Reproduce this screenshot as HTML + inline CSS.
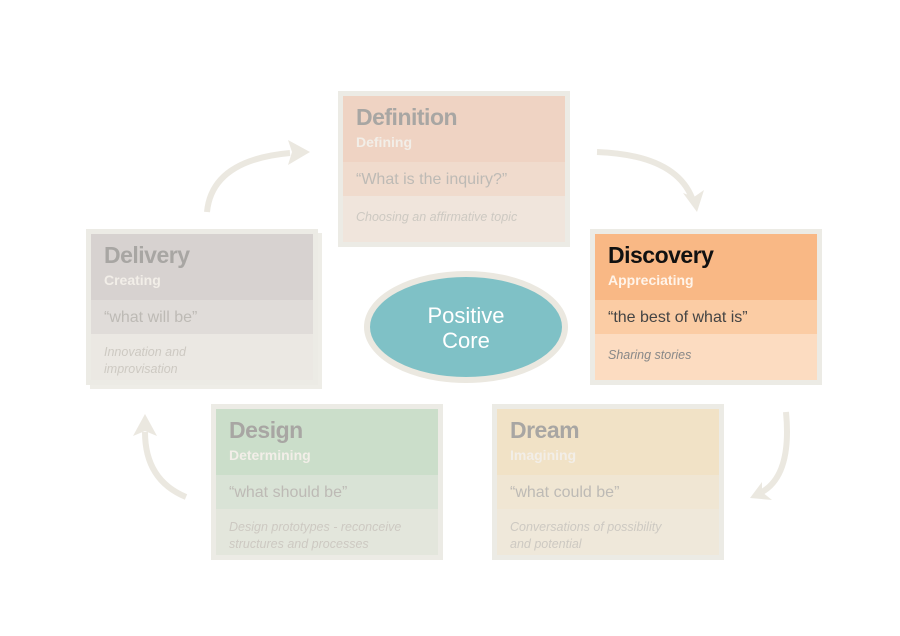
<!DOCTYPE html>
<html><head><meta charset="utf-8"><style>
body{margin:0;width:900px;height:636px;background:#fff;position:relative;overflow:hidden;font-family:"Liberation Sans",sans-serif}
.box{position:absolute;width:222px;height:146px;border:5px solid #ecebe5;}
.h{position:absolute;left:0;top:0;width:222px;height:66px}
.q{position:absolute;left:0;top:66px;width:222px;height:34px}
.b{position:absolute;left:0;top:100px;width:222px;height:46px}
.t{position:absolute;left:13px;top:8px;font-size:23px;font-weight:bold;letter-spacing:-0.5px}
.s{position:absolute;left:13px;top:38px;font-size:14px;font-weight:bold}
.qq{position:absolute;left:13px;top:75px;font-size:16px}
.d{position:absolute;left:13px;top:113px;font-size:12.5px;font-style:italic;line-height:17px}
.dim .t{color:#a8a6a3}.dim .s{color:#f2eee8}.dim .qq{color:#bdbab5}.dim .d{color:#cdc9c2}
</style></head><body>
<svg width="900" height="636" style="position:absolute;left:0;top:0">
<g fill="none" stroke="#ebe8e0" stroke-width="6">
<path d="M207 212 Q212 160 290 153"/>
<path d="M597 152 Q675 155 692 198"/>
<path d="M786 412 Q792 475 762 492"/>
<path d="M186 497 Q145 480 145 432"/>
</g>
<g fill="#ebe8e0">
<polygon points="310,152 288,140 292,152 288,165"/>
<polygon points="697,212 683,193 694,197 704,190"/>
<polygon points="750,498 762,482 762,492 772,500"/>
<polygon points="145,414 133,436 145,431 157,436"/>
</g>
<ellipse cx="466" cy="327" rx="99" ry="53" fill="#7fc1c6" stroke="#ebe8e0" stroke-width="6"/>
<text x="466" y="323" text-anchor="middle" fill="#fff" font-size="22" font-family="Liberation Sans,sans-serif">Positive</text>
<text x="466" y="348" text-anchor="middle" fill="#fff" font-size="22" font-family="Liberation Sans,sans-serif">Core</text>
</svg>

<div class="box dim" style="left:338px;top:91px">
<div class="h" style="background:#efd3c3"></div><div class="q" style="background:#f0dbcd"></div><div class="b" style="background:#f0e5dc"></div>
<div class="t">Definition</div><div class="s">Defining</div><div class="qq">“What is the inquiry?”</div><div class="d">Choosing an affirmative topic</div></div>

<div class="box" style="left:590px;top:229px">
<div class="h" style="background:#f9b885"></div><div class="q" style="background:#fbcca4"></div><div class="b" style="background:#fcdcc1"></div>
<div class="t" style="color:#111">Discovery</div><div class="s" style="color:#fff4ea">Appreciating</div><div class="qq" style="color:#444">“the best of what is”</div><div class="d" style="color:#888">Sharing stories</div></div>

<div class="box dim" style="left:86px;top:229px;box-shadow:4px 4px 0 #eeede7">
<div class="h" style="background:#d7d2d0"></div><div class="q" style="background:#e0dcd9"></div><div class="b" style="background:#ebe8e3"></div>
<div class="t">Delivery</div><div class="s">Creating</div><div class="qq">“what will be”</div><div class="d" style="top:110px">Innovation and<br>improvisation</div></div>

<div class="box dim" style="left:211px;top:404px">
<div class="h" style="background:#cbdeca"></div><div class="q" style="background:#d9e3d6"></div><div class="b" style="background:#e3e6dc"></div>
<div class="t">Design</div><div class="s">Determining</div><div class="qq">“what should be”</div><div class="d" style="top:110px">Design prototypes - reconceive<br>structures and processes</div></div>

<div class="box dim" style="left:492px;top:404px">
<div class="h" style="background:#f1e2c6"></div><div class="q" style="background:#f0e6d3"></div><div class="b" style="background:#efe8da"></div>
<div class="t">Dream</div><div class="s">Imagining</div><div class="qq">“what could be”</div><div class="d" style="top:110px">Conversations of possibility<br>and potential</div></div>
</body></html>
